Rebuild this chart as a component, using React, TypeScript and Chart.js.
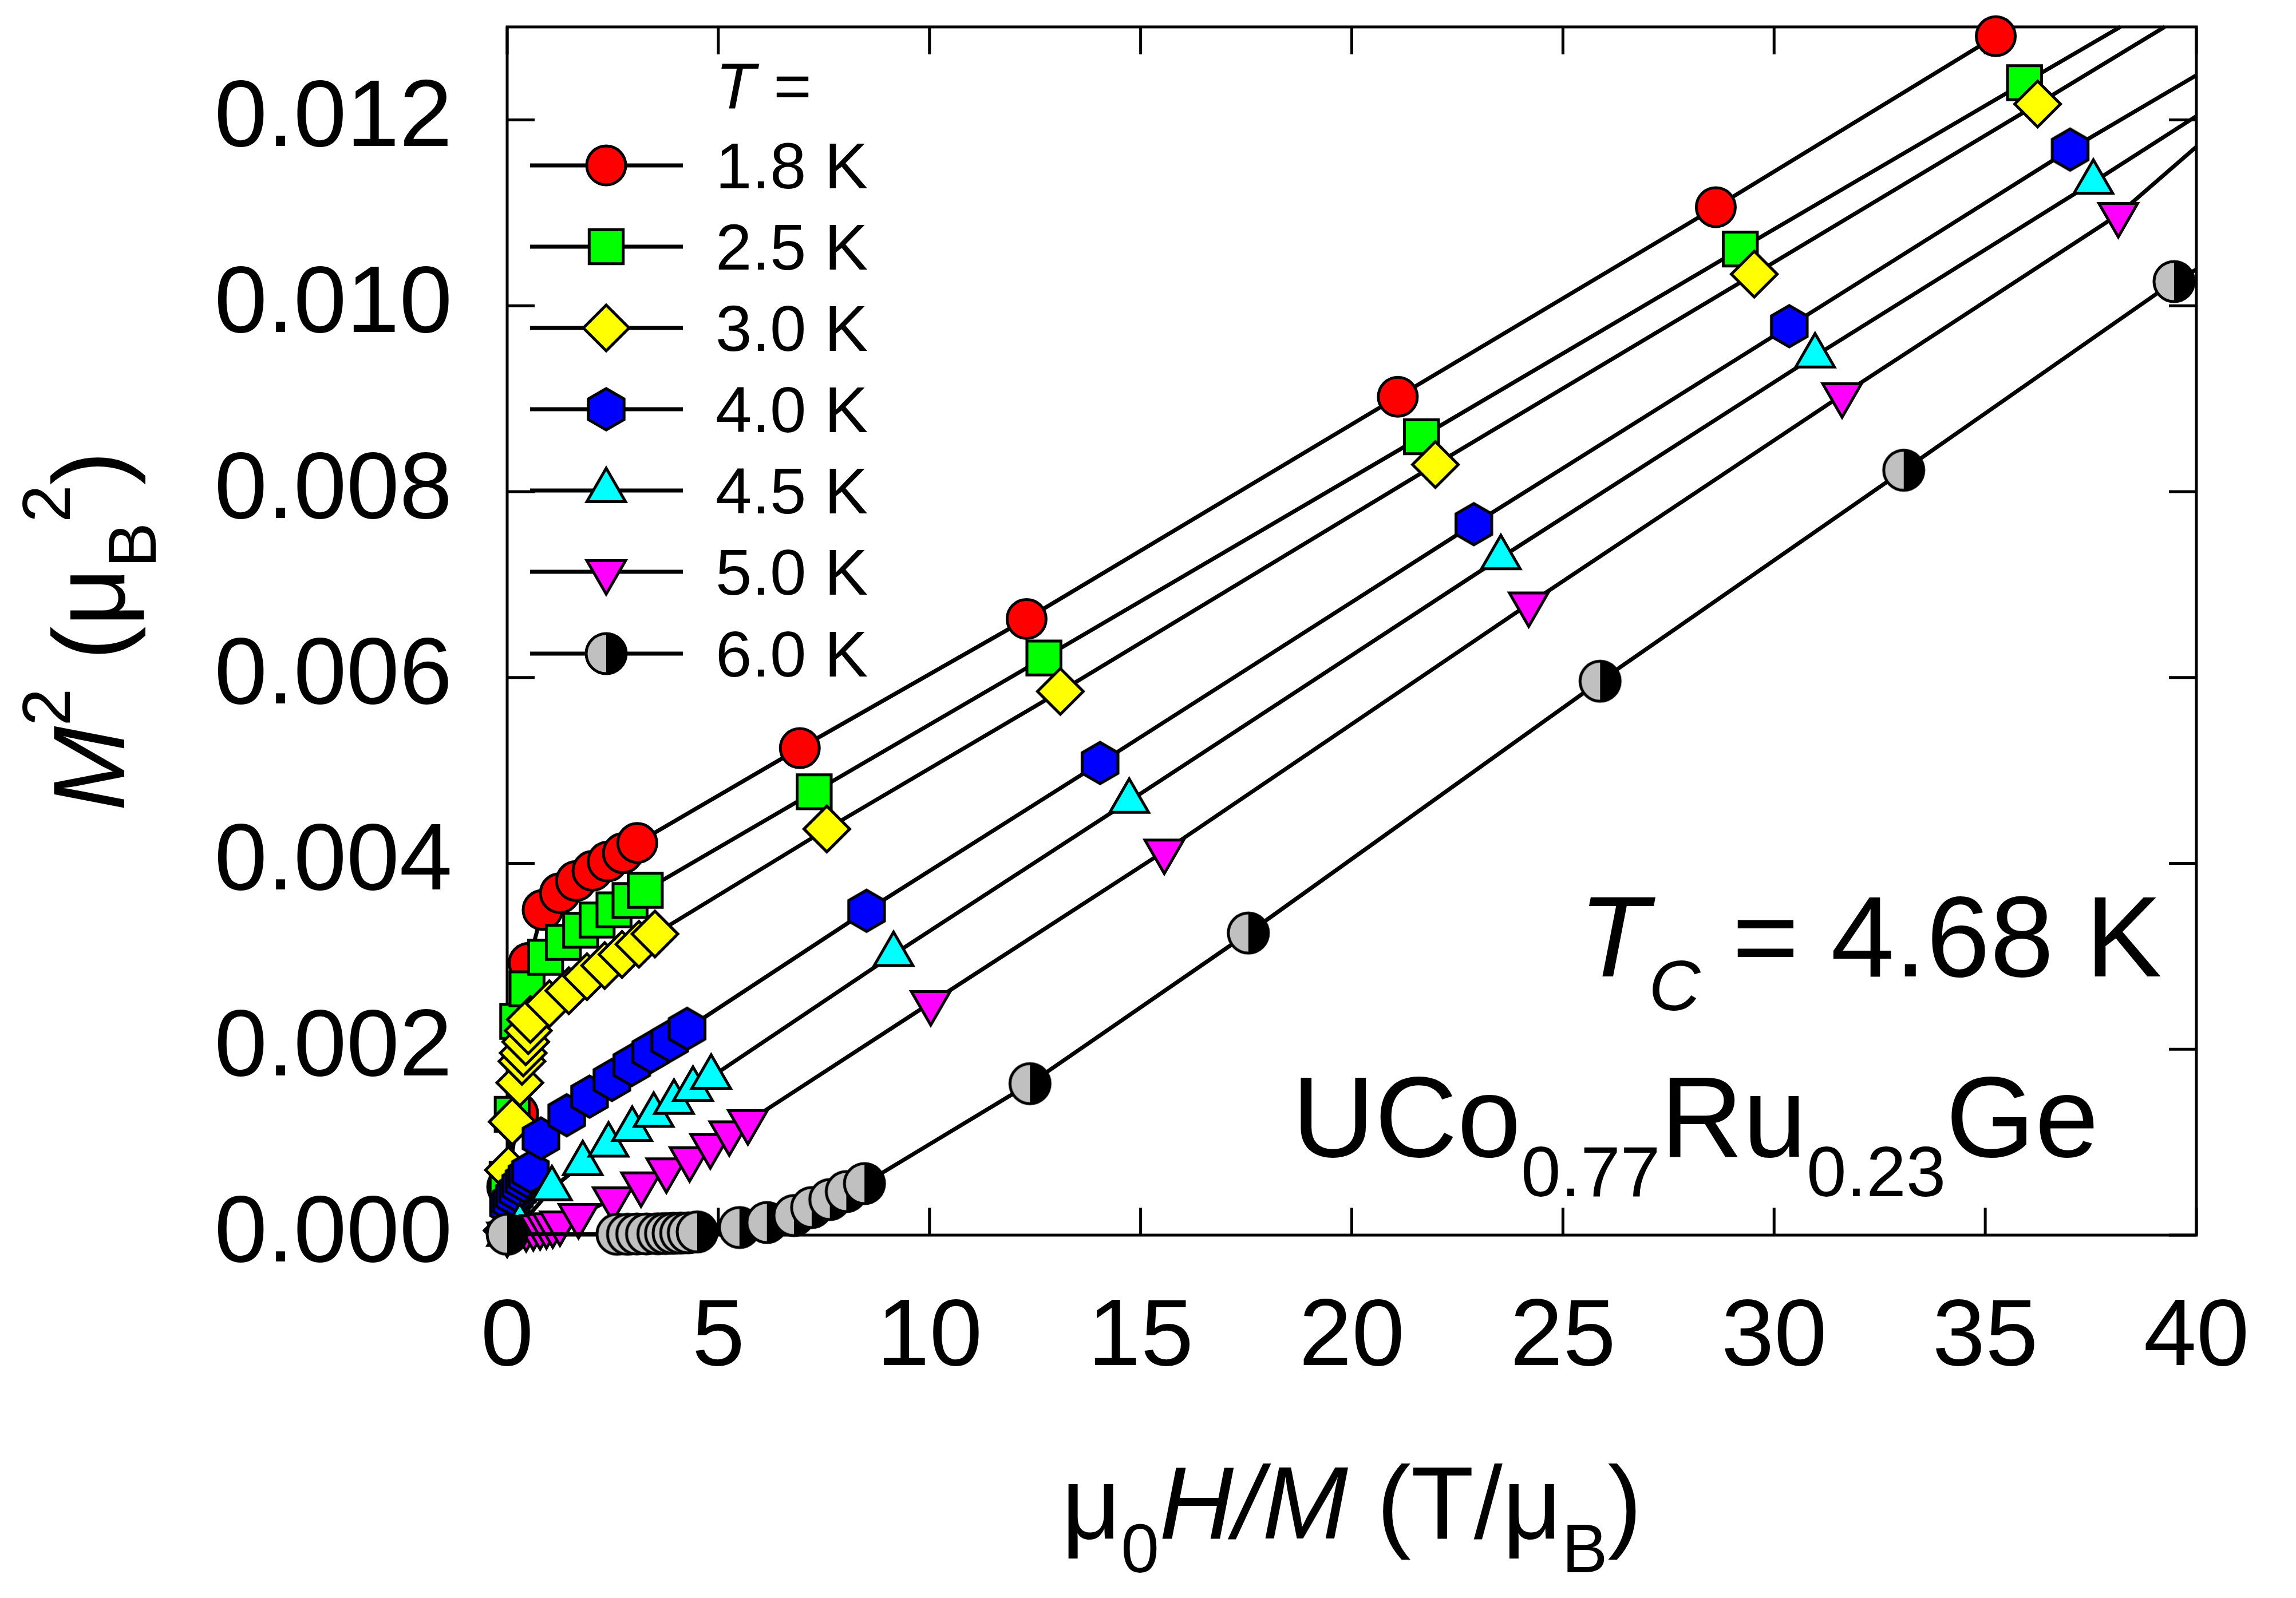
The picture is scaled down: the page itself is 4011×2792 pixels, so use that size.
import React, { useEffect, useRef } from 'react';
import { Chart, registerables } from 'chart.js';
import { drawPoint } from 'chart.js/helpers';
Chart.register(...registerables);

const FONT = '"Liberation Sans", Arial, Helvetica, sans-serif';

// series labels
const temps = ['1.8 K', '2.5 K', '3.0 K', '4.0 K', '4.5 K', '5.0 K', '6.0 K'];

// 1.8 K
const x18 = [0.0, 0.26, 0.51, 0.84, 1.25, 1.63, 2.02, 2.38, 2.74, 3.08, 6.93, 12.3, 21.09, 28.62, 35.25];
const y18 = [0.00052, 0.00131, 0.00293, 0.0035, 0.00368, 0.00381, 0.00392, 0.00402, 0.00411, 0.00422, 0.00524, 0.00663, 0.00902, 0.01106, 0.0129];
// 2.5 K
const x25 = [0.0, 0.12, 0.25, 0.47, 0.91, 1.33, 1.74, 2.13, 2.53, 2.91, 3.27, 7.27, 12.71, 21.65, 29.2, 35.93];
const y25 = [0.0006, 0.0013, 0.0023, 0.00265, 0.00299, 0.00315, 0.00328, 0.00339, 0.0035, 0.0036, 0.00371, 0.00477, 0.00621, 0.00859, 0.01061, 0.0124];
// 3.0 K
const x30 = [0.0, 0.03, 0.12, 0.3, 0.35, 0.38, 0.44, 0.5, 0.55, 1.0, 1.46, 1.89, 2.31, 2.72, 3.12, 3.5, 7.57, 13.1, 21.98, 29.53, 36.24];
const y30 = [0.00005, 0.0007, 0.00122, 0.00164, 0.00187, 0.00196, 0.00208, 0.0022, 0.00232, 0.00249, 0.00263, 0.00278, 0.0029, 0.00302, 0.00313, 0.00324, 0.00437, 0.00585, 0.00829, 0.01034, 0.01217];
// 4.0 K
const x40 = [0.0, 0.03, 0.1, 0.17, 0.25, 0.32, 0.4, 0.47, 0.55, 0.8, 1.41, 1.95, 2.48, 2.95, 3.4, 3.85, 4.26, 8.51, 14.04, 22.89, 30.36, 37.01];
const y40 = [0.00002, 0.00032, 0.00036, 0.00042, 0.00047, 0.00053, 0.00058, 0.00063, 0.00068, 0.00104, 0.00129, 0.00149, 0.00167, 0.00183, 0.00197, 0.00209, 0.00222, 0.00349, 0.00508, 0.00765, 0.00978, 0.01168];
// 4.5 K
const x45 = [0.0, 0.3, 1.06, 1.79, 2.4, 2.96, 3.47, 3.95, 4.4, 4.83, 9.15, 14.73, 23.53, 30.97, 37.56];
const y45 = [0.00001, 0.0001, 0.0005, 0.00077, 0.00097, 0.00114, 0.00129, 0.00143, 0.00157, 0.0017, 0.00302, 0.00467, 0.00729, 0.00946, 0.01133];
// 5.0 K
const x50 = [0.0, 0.45, 0.62, 0.78, 0.93, 1.08, 1.25, 1.69, 2.5, 3.17, 3.77, 4.32, 4.81, 5.26, 5.7, 10.03, 15.56, 24.19, 31.61, 38.15];
const y50 = [0.00001, 0.00007, 0.00008, 0.00009, 0.0001, 0.00011, 0.00013, 0.00021, 0.00039, 0.00055, 0.0007, 0.00082, 0.00096, 0.0011, 0.00122, 0.0025, 0.00413, 0.00679, 0.00904, 0.01098];
// 6.0 K
const x60 = [0.0, 2.6, 2.85, 3.07, 3.3, 3.57, 3.75, 3.93, 4.11, 4.29, 4.5, 5.5, 6.15, 6.79, 7.21, 7.64, 8.03, 8.46, 12.38, 17.55, 25.88, 33.07, 39.47];
const y60 = [0.00001, 0.00001, 0.00001, 0.000012, 0.000013, 0.000015, 0.000017, 0.00002, 0.000022, 0.000025, 0.000035, 0.000082, 0.000136, 0.000211, 0.000297, 0.000383, 0.000469, 0.000555, 0.00163, 0.00325, 0.00596, 0.00823, 0.01026];

// where each curve leaves the frame (line only, no symbol)
const exitX = [35.6, 38.2, 39.25, 40, 40, 40, 40];
const exitY = [0.013, 0.013, 0.013, 0.01248, 0.01204, 0.01171, 0.01039];

const xTicks = [0, 5, 10, 15, 20, 25, 30, 35, 40];
const yTicks = [0, 0.002, 0.004, 0.006, 0.008, 0.01, 0.012];

const seriesX = [x18, x25, x30, x40, x45, x50, x60];
const seriesY = [y18, y25, y30, y40, y45, y50, y60];
const colors = ['#ff0000', '#00ff00', '#ffff00', '#0000ff', '#00ffff', '#ff00ff', '#c0c0c0'];

const BW = 5;

function makeHexagon(R: number) {
  const c = document.createElement('canvas');
  const s = Math.ceil(2 * (R + BW));
  c.width = s;
  c.height = s;
  const g = c.getContext('2d') as CanvasRenderingContext2D;
  g.beginPath();
  for (let i = 0; i < 6; i++) {
    const a = -Math.PI / 2 + (i * Math.PI) / 3;
    const px = s / 2 + R * Math.cos(a);
    const py = s / 2 + R * Math.sin(a);
    if (i === 0) g.moveTo(px, py);
    else g.lineTo(px, py);
  }
  g.closePath();
  g.fillStyle = '#0000ff';
  g.fill();
  g.lineWidth = BW;
  g.strokeStyle = '#000';
  g.lineJoin = 'miter';
  g.stroke();
  return c;
}

function makeHalfCircle(R: number) {
  const c = document.createElement('canvas');
  const s = Math.ceil(2 * (R + BW));
  c.width = s;
  c.height = s;
  const g = c.getContext('2d') as CanvasRenderingContext2D;
  const m = s / 2;
  g.beginPath();
  g.arc(m, m, R, Math.PI / 2, (3 * Math.PI) / 2);
  g.closePath();
  g.fillStyle = '#c0c0c0';
  g.fill();
  g.beginPath();
  g.arc(m, m, R, -Math.PI / 2, Math.PI / 2);
  g.closePath();
  g.fillStyle = '#000';
  g.fill();
  g.beginPath();
  g.arc(m, m, R, 0, Math.PI * 2);
  g.lineWidth = BW;
  g.strokeStyle = '#000';
  g.stroke();
  return c;
}

type Seg = { t: string; size: number; italic?: boolean; dy?: number };

function drawRich(ctx: CanvasRenderingContext2D, segs: Seg[], x: number, y: number, align: 'left' | 'center') {
  ctx.save();
  ctx.fillStyle = '#000';
  ctx.textAlign = 'left';
  ctx.textBaseline = 'alphabetic';
  const fontOf = (s: Seg) => `${s.italic ? 'italic ' : ''}${s.size}px ${FONT}`;
  const widths = segs.map((s) => {
    ctx.font = fontOf(s);
    return ctx.measureText(s.t).width;
  });
  const total = widths.reduce((a, b) => a + b, 0);
  let cx = align === 'center' ? x - total / 2 : x;
  segs.forEach((s, i) => {
    ctx.font = fontOf(s);
    ctx.fillText(s.t, cx, y + (s.dy || 0));
    cx += widths[i];
  });
  ctx.restore();
}

const App = () => {
  const chartRef = useRef<HTMLCanvasElement>(null);

  useEffect(() => {
    const canvas = chartRef.current as HTMLCanvasElement;
    const hex = makeHexagon(36);
    const half = makeHalfCircle(35);

    const markers: { style: any; radius: number; rotation: number }[] = [
      { style: 'circle', radius: 34, rotation: 0 },
      { style: 'rect', radius: 42, rotation: 0 },
      { style: 'rectRot', radius: 40, rotation: 0 },
      { style: hex, radius: 36, rotation: 0 },
      { style: 'triangle', radius: 39, rotation: 0 },
      { style: 'triangle', radius: 39, rotation: 180 },
      { style: half, radius: 35, rotation: 0 },
    ];

    const datasets = temps.map((label, i) => {
      const pts = seriesX[i].map((x, j) => ({ x, y: seriesY[i][j] }));
      pts.push({ x: exitX[i], y: exitY[i] });
      const n = pts.length;
      return {
        label,
        data: pts,
        showLine: true,
        borderColor: '#000',
        borderWidth: 7,
        tension: 0,
        pointStyle: markers[i].style,
        pointRotation: markers[i].rotation,
        pointRadius: pts.map((_, j) => (j === n - 1 ? 0 : markers[i].radius)),
        pointHoverRadius: 0,
        pointBackgroundColor: colors[i],
        pointBorderColor: '#000',
        pointBorderWidth: BW,
        clip: false as const,
        order: temps.length - 1 - i,
      };
    });

    const framePlugin = {
      id: 'frame',
      beforeDatasetsDraw(chart: any) {
        const { ctx, chartArea: a, scales } = chart;
        const tl = 48;
        ctx.save();
        ctx.strokeStyle = '#000';
        ctx.lineWidth = 5;
        ctx.lineCap = 'butt';
        ctx.strokeRect(a.left, a.top, a.right - a.left, a.bottom - a.top);
        ctx.beginPath();
        xTicks.forEach((v) => {
          const px = scales.x.getPixelForValue(v);
          ctx.moveTo(px, a.bottom);
          ctx.lineTo(px, a.bottom - tl);
          ctx.moveTo(px, a.top);
          ctx.lineTo(px, a.top + tl);
        });
        yTicks.forEach((v) => {
          const py = scales.y.getPixelForValue(v);
          ctx.moveTo(a.left, py);
          ctx.lineTo(a.left + tl, py);
          ctx.moveTo(a.right, py);
          ctx.lineTo(a.right - tl, py);
        });
        ctx.stroke();
        ctx.restore();
      },
    };

    const textPlugin = {
      id: 'texts',
      afterDraw(chart: any) {
        const { ctx, chartArea: a } = chart;
        // y axis title
        ctx.save();
        ctx.translate(217, (a.top + a.bottom) / 2);
        ctx.rotate(-Math.PI / 2);
        drawRich(
          ctx,
          [
            { t: 'M', size: 178, italic: true },
            { t: '2', size: 118, dy: -95 },
            { t: ' (', size: 178 },
            { t: 'μ', size: 178 },
            { t: 'B', size: 118, dy: 55 },
            { t: '2', size: 118, dy: -95 },
            { t: ')', size: 178 },
          ],
          0,
          0,
          'center'
        );
        ctx.restore();

        // x axis title
        drawRich(
          ctx,
          [
            { t: 'μ', size: 180 },
            { t: '0', size: 120, dy: 59 },
            { t: 'H/M', size: 180, italic: true },
            { t: ' (T/', size: 180 },
            { t: 'μ', size: 180 },
            { t: 'B', size: 120, dy: 59 },
            { t: ')', size: 180 },
          ],
          (a.left + a.right) / 2,
          2688,
          'center'
        );

        // annotations
        drawRich(
          ctx,
          [
            { t: 'T', size: 200, italic: true },
            { t: 'C', size: 125, italic: true, dy: 59 },
            { t: ' = 4.68 K', size: 200 },
          ],
          2758,
          1706,
          'left'
        );
        drawRich(
          ctx,
          [
            { t: 'UCo', size: 200 },
            { t: '0.77', size: 125, dy: 69 },
            { t: 'Ru', size: 200 },
            { t: '0.23', size: 125, dy: 69 },
            { t: 'Ge', size: 200 },
          ],
          2257,
          2021,
          'left'
        );

        // legend
        drawRich(ctx, [{ t: 'T', size: 114, italic: true }, { t: ' =', size: 114 }], 1250, 189, 'left');
        const rowY = [289, 431, 573, 715, 857, 999, 1142];
        temps.forEach((label, i) => {
          const y = rowY[i];
          ctx.save();
          ctx.strokeStyle = '#000';
          ctx.lineWidth = 7;
          ctx.beginPath();
          ctx.moveTo(926, y);
          ctx.lineTo(1193, y);
          ctx.stroke();
          const mk = markers[i];
          if (typeof mk.style === 'string') {
            ctx.fillStyle = colors[i];
            ctx.strokeStyle = '#000';
            ctx.lineWidth = BW;
            drawPoint(ctx, { pointStyle: mk.style, radius: mk.radius, rotation: mk.rotation, borderWidth: BW } as any, 1059, y);
          } else {
            ctx.drawImage(mk.style, 1059 - mk.style.width / 2, y - mk.style.height / 2);
          }
          ctx.restore();
          drawRich(ctx, [{ t: label, size: 114 }], 1250, y + 40, 'left');
        });
      },
    };

    const chart = new Chart(canvas, {
      type: 'scatter',
      data: { datasets: datasets as any },
      options: {
        animation: false,
        responsive: true,
        maintainAspectRatio: false,
        devicePixelRatio: 1,
        events: [],
        layout: { padding: { left: 0, right: 174, top: 35, bottom: 0 } },
        plugins: { legend: { display: false }, tooltip: { enabled: false } },
        scales: {
          x: {
            type: 'linear',
            position: 'bottom',
            min: 0,
            max: 40,
            afterFit: (s: any) => {
              s.height = 634;
              s.paddingLeft = 0;
              s.paddingRight = 0;
            },
            afterBuildTicks: (s: any) => {
              s.ticks = xTicks.map((v) => ({ value: v }));
            },
            grid: { display: false },
            border: { display: false },
            ticks: {
              color: '#000',
              font: { family: FONT, size: 166 },
              padding: 74,
              maxRotation: 0,
              autoSkip: false,
              callback: (v: any) => String(v),
            },
          },
          y: {
            type: 'linear',
            min: 0,
            max: 0.013,
            afterFit: (s: any) => {
              s.width = 886;
              s.paddingTop = 0;
              s.paddingBottom = 0;
            },
            afterBuildTicks: (s: any) => {
              s.ticks = yTicks.map((v) => ({ value: v }));
            },
            grid: { display: false },
            border: { display: false },
            ticks: {
              color: '#000',
              font: { family: FONT, size: 166 },
              padding: 88,
              autoSkip: false,
              callback: (v: any) => Number(v).toFixed(3),
            },
          },
        },
      },
      plugins: [framePlugin, textPlugin],
    });

    return () => {
      chart.destroy();
    };
  }, []);

  return (
    <div style={{ position: 'fixed', left: 0, top: 0, width: 4011, height: 2792, background: '#fff' }}>
      <canvas ref={chartRef}></canvas>
    </div>
  );
};

export default App;
